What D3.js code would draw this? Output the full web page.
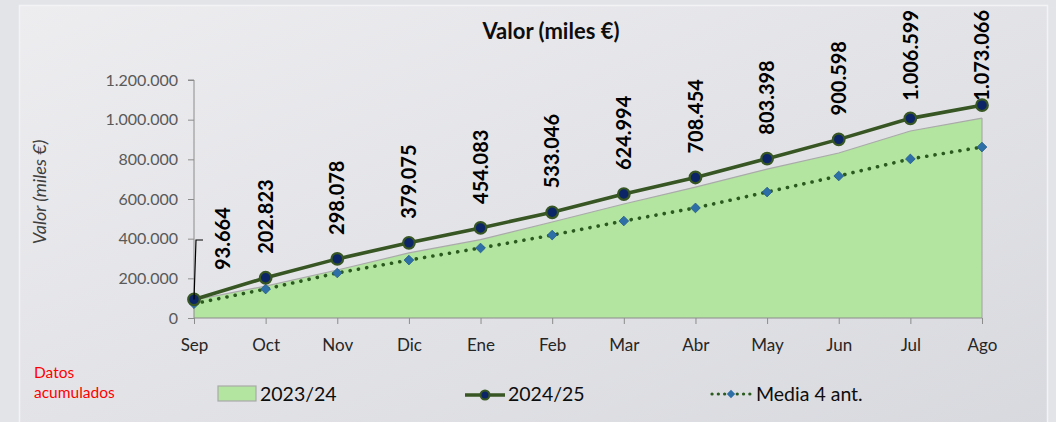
<!DOCTYPE html>
<html lang="es">
<head>
    <meta charset="UTF-8">
    <title>Valor (miles €)</title>
    <script src="https://d3js.org/d3.v7.min.js"></script>
    <style>
        html, body { margin: 0; padding: 0; background: #e3e4e8; }
        svg { display: block; font-family: Lato, "Open Sans", sans-serif; }
        .ytick text { fill: #595959; font-size: 16px; }
        .xtick text { fill: #262626; font-size: 17px; }
        .lbl { font-weight: bold; font-size: 20px; fill: #000; }
    </style>
</head>
<body>
<div id="chart"></div>
<script>
// Datos acumulados (miles €)
const months = ["Sep", "Oct", "Nov", "Dic", "Ene", "Feb", "Mar", "Abr", "May", "Jun", "Jul", "Ago"];
const prev2324 = [90000, 161000, 242000, 328000, 395000, 484000, 575000, 660000, 751000, 832000, 943000, 1008000];
const cur2425 = [93664, 202823, 298078, 379075, 454083, 533046, 624994, 708454, 803398, 900598, 1006599, 1073066];
const media4 = [72000, 146000, 227000, 292000, 353000, 418000, 489000, 555000, 635000, 716000, 802000, 862000];
const yTicks = [0, 200000, 400000, 600000, 800000, 1000000, 1200000];

const width = 1056, height = 422;
const es = d3.formatLocale({decimal: ",", thousands: ".", grouping: [3], currency: ["", " €"]});
const fmt = es.format(",d");

const svg = d3.select("#chart").append("svg")
    .attr("width", width)
    .attr("height", height);

// fondo con degradado
const grad = svg.append("defs").append("linearGradient")
    .attr("id", "bg").attr("x1", 0).attr("y1", 0).attr("x2", 1).attr("y2", 1);
grad.append("stop").attr("offset", "0%").attr("stop-color", "#ededf0");
grad.append("stop").attr("offset", "100%").attr("stop-color", "#d8d9de");

svg.append("rect").attr("width", width).attr("height", height).attr("fill", "#e3e4e8");
svg.append("rect")
    .attr("x", 19.5).attr("y", 5.5).attr("width", 1028).attr("height", 430)
    .attr("fill", "url(#bg)")
    .attr("stroke", "#f3f3f5").attr("stroke-width", 1.5);

const x = d3.scalePoint().domain(months).range([194, 982]);
const y = d3.scaleLinear().domain([0, 1200000]).range([318, 80]);

// area 2023/24
const area = d3.area()
    .x((d, i) => x(months[i]))
    .y0(y(0))
    .y1(d => y(d));
svg.append("path")
    .datum(prev2324)
    .attr("d", area)
    .attr("fill", "#b3e4a0");
svg.append("path")
    .datum(prev2324)
    .attr("d", d3.line().x((d, i) => x(months[i])).y(d => y(d)))
    .attr("fill", "none")
    .attr("stroke", "#a9aaa9")
    .attr("stroke-width", 1.2);
svg.append("line")
    .attr("x1", x("Ago")).attr("x2", x("Ago"))
    .attr("y1", y(prev2324[prev2324.length - 1])).attr("y2", y(0))
    .attr("stroke", "#a9aaa9").attr("stroke-width", 1.2);

// ejes
const yAxis = svg.append("g")
    .attr("class", "ytick")
    .attr("transform", "translate(" + x("Sep") + ",0)")
    .call(d3.axisLeft(y).tickValues(yTicks).tickFormat(fmt).tickSize(6).tickPadding(10));
yAxis.selectAll("line, path").attr("stroke", "#8c8c8c");
yAxis.select("path").attr("d", "M-6," + y(1200000) + "H0V" + y(0));
yAxis.selectAll("text").attr("font-family", "Lato, sans-serif");

const xAxis = svg.append("g")
    .attr("class", "xtick")
    .attr("transform", "translate(0," + y(0) + ")")
    .call(d3.axisBottom(x).tickSize(6).tickPadding(15));
xAxis.selectAll("line").attr("stroke", "#8c8c8c");
xAxis.select("path").attr("d", "M" + x("Sep") + ",0H" + x("Ago")).attr("stroke", "#8c8c8c");
xAxis.selectAll("text").attr("font-family", "Lato, sans-serif");

// media 4 anteriores
svg.append("path")
    .datum(media4)
    .attr("d", d3.line().x((d, i) => x(months[i])).y(d => y(d)))
    .attr("fill", "none")
    .attr("stroke", "#2b5a1f")
    .attr("stroke-width", 3.6)
    .attr("stroke-linecap", "round")
    .attr("stroke-dasharray", "0.1,8.3");
svg.selectAll(".dia")
    .data(media4)
    .enter().append("path")
    .attr("class", "dia")
    .attr("transform", (d, i) => "translate(" + x(months[i]) + "," + y(d) + ")")
    .attr("d", d3.symbol(d3.symbolDiamond2, 60))
    .attr("fill", "#2e6fa7")
    .attr("stroke", "#245b8a")
    .attr("stroke-width", 0.8);

// 2024/25
svg.append("path")
    .datum(cur2425)
    .attr("d", d3.line().x((d, i) => x(months[i])).y(d => y(d)))
    .attr("fill", "none")
    .attr("stroke", "#375623")
    .attr("stroke-width", 3.6);
svg.selectAll(".pt")
    .data(cur2425)
    .enter().append("circle")
    .attr("class", "pt")
    .attr("cx", (d, i) => x(months[i]))
    .attr("cy", d => y(d))
    .attr("r", 5.8)
    .attr("fill", "#0b2566")
    .attr("stroke", "#375623")
    .attr("stroke-width", 2.2);

// etiquetas de datos (verticales)
const lbl = svg.selectAll(".lbl")
    .data(cur2425)
    .enter().append("text")
    .attr("class", "lbl")
    .attr("dy", "0.36em")
    .text(d => fmt(d));
lbl.attr("transform", function(d, i) {
    const len = this.getComputedTextLength();
    let cx = x(months[i]);
    let bottom = Math.max(y(d) - 24, 10 + len);
    if (i === 0) { cx = x(months[i]) + 29; bottom = 270; }
    return "translate(" + cx + "," + bottom + ") rotate(-90)";
});
// linea guia de la primera etiqueta
svg.append("path")
    .attr("d", "M" + x("Sep") + "," + y(cur2425[0]) + "L" + (x("Sep") + 2) + ",240H" + (x("Sep") + 9))
    .attr("fill", "none")
    .attr("stroke", "#000")
    .attr("stroke-width", 1.2);

// titulos
svg.append("text")
    .attr("x", 551).attr("y", 39)
    .attr("text-anchor", "middle")
    .attr("font-weight", "bold")
    .attr("font-size", 22)
    .attr("fill", "#0d0d0d")
    .text("Valor (miles €)");
svg.append("text")
    .attr("transform", "translate(46,192) rotate(-90)")
    .attr("text-anchor", "middle")
    .attr("font-style", "italic")
    .attr("font-size", 18)
    .attr("fill", "#404040")
    .text("Valor (miles €)");
const nota = svg.append("text")
    .attr("x", 34).attr("y", 378)
    .attr("font-size", 15.5)
    .attr("fill", "#ff0000");
nota.append("tspan").attr("x", 34).text("Datos");
nota.append("tspan").attr("x", 34).attr("dy", 20).text("acumulados");

// leyenda
const leg = svg.append("g").attr("font-size", 19.5).attr("fill", "#0d0d0d");
leg.append("rect")
    .attr("x", 218).attr("y", 386).attr("width", 38).attr("height", 15)
    .attr("fill", "#b3e4a0").attr("stroke", "#a9aaa9").attr("stroke-width", 1.2);
leg.append("text").attr("x", 260).attr("y", 401).text("2023/24");

leg.append("line")
    .attr("x1", 465).attr("x2", 505).attr("y1", 395).attr("y2", 395)
    .attr("stroke", "#375623").attr("stroke-width", 3.6);
leg.append("circle")
    .attr("cx", 485).attr("cy", 395).attr("r", 4.5)
    .attr("fill", "#0b2566").attr("stroke", "#375623").attr("stroke-width", 2);
leg.append("text").attr("x", 508).attr("y", 401).text("2024/25");

leg.append("line")
    .attr("x1", 712).attr("x2", 750).attr("y1", 394).attr("y2", 394)
    .attr("stroke", "#2b5a1f").attr("stroke-width", 3.2)
    .attr("stroke-linecap", "round").attr("stroke-dasharray", "0.1,6.2");
leg.append("path")
    .attr("transform", "translate(731,394)")
    .attr("d", d3.symbol(d3.symbolDiamond2, 45))
    .attr("fill", "#2e6fa7");
leg.append("text").attr("x", 756).attr("y", 401).text("Media 4 ant.");
</script>
</body>
</html>
